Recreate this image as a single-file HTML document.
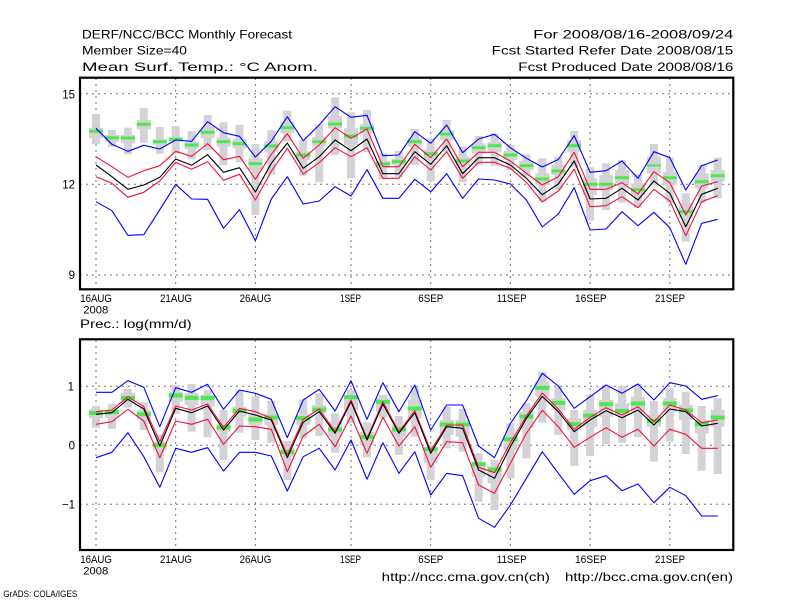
<!DOCTYPE html>
<html><head><meta charset="utf-8"><style>
html,body{margin:0;padding:0;background:#fff;}
svg{display:block;}
text{font-family:"Liberation Sans",sans-serif;fill:#000;}
</style></head><body>
<svg width="800" height="600" viewBox="0 0 800 600" xmlns="http://www.w3.org/2000/svg">
<rect width="800" height="600" fill="#fff"/>
<!-- header -->
<g font-size="12">
<text x="82" y="38.5" textLength="210" lengthAdjust="spacingAndGlyphs">DERF/NCC/BCC Monthly Forecast</text>
<text x="82" y="54.7" textLength="105" lengthAdjust="spacingAndGlyphs">Member Size=40</text>
<text x="82" y="71" textLength="236" lengthAdjust="spacingAndGlyphs">Mean Surf. Temp.: °C Anom.</text>
<text x="533.3" y="38.5" textLength="200" lengthAdjust="spacingAndGlyphs">For 2008/08/16-2008/09/24</text>
<text x="491.7" y="54.7" textLength="241.6" lengthAdjust="spacingAndGlyphs">Fcst Started Refer Date 2008/08/15</text>
<text x="518.3" y="71" textLength="215" lengthAdjust="spacingAndGlyphs">Fcst Produced Date 2008/08/16</text>
<text x="80" y="328" textLength="111.7" lengthAdjust="spacingAndGlyphs">Prec.: log(mm/d)</text>
<text x="381.7" y="581" textLength="168.3" lengthAdjust="spacingAndGlyphs">http://ncc.cma.gov.cn(ch)</text>
<text x="565" y="581" textLength="168" lengthAdjust="spacingAndGlyphs">http://bcc.cma.gov.cn(en)</text>
</g>
<text x="3.3" y="597" font-size="9.5" textLength="74" lengthAdjust="spacingAndGlyphs">GrADS: COLA/IGES</text>

<!-- gridlines -->
<g stroke="#777" stroke-width="1" stroke-dasharray="2,4" fill="none">
<line x1="80" y1="93.8" x2="733" y2="93.8"/>
<line x1="80" y1="184.3" x2="733" y2="184.3"/>
<line x1="80" y1="275" x2="733" y2="275"/>
<line x1="80" y1="386.3" x2="733" y2="386.3"/>
<line x1="80" y1="445.3" x2="733" y2="445.3"/>
<line x1="80" y1="504.3" x2="733" y2="504.3"/>
<line x1="96" y1="78" x2="96" y2="289"/><line x1="175.7" y1="78" x2="175.7" y2="289"/><line x1="255.4" y1="78" x2="255.4" y2="289"/><line x1="351" y1="78" x2="351" y2="289"/><line x1="430.7" y1="78" x2="430.7" y2="289"/><line x1="510.4" y1="78" x2="510.4" y2="289"/><line x1="590.1" y1="78" x2="590.1" y2="289"/><line x1="669.8" y1="78" x2="669.8" y2="289"/>
<line x1="96" y1="340" x2="96" y2="550"/><line x1="175.7" y1="340" x2="175.7" y2="550"/><line x1="255.4" y1="340" x2="255.4" y2="550"/><line x1="351" y1="340" x2="351" y2="550"/><line x1="430.7" y1="340" x2="430.7" y2="550"/><line x1="510.4" y1="340" x2="510.4" y2="550"/><line x1="590.1" y1="340" x2="590.1" y2="550"/><line x1="669.8" y1="340" x2="669.8" y2="550"/>
</g>

<!-- grey bars top -->
<g fill="#d3d3d7">
<rect x="92" y="114" width="8" height="30"/><rect x="107.9" y="130" width="8" height="16.7"/><rect x="123.9" y="127.7" width="8" height="26.6"/><rect x="139.8" y="108" width="8" height="34.7"/><rect x="155.8" y="127" width="8" height="26.7"/><rect x="171.7" y="126" width="8" height="27.3"/><rect x="187.6" y="131" width="8" height="28.3"/><rect x="203.6" y="115" width="8" height="35"/><rect x="219.5" y="122.3" width="8" height="42.7"/><rect x="235.5" y="125" width="8" height="37.3"/>
<rect x="251.4" y="144" width="8" height="71"/><rect x="267.3" y="130" width="8" height="44.3"/><rect x="283.3" y="110.7" width="8" height="31"/><rect x="299.2" y="140" width="8" height="35.7"/><rect x="315.2" y="124.3" width="8" height="58"/><rect x="331.1" y="97.3" width="8" height="57.7"/><rect x="347" y="112.3" width="8" height="66"/><rect x="363" y="110" width="8" height="42.3"/><rect x="378.9" y="153.3" width="8" height="26"/><rect x="394.9" y="151" width="8" height="26.3"/>
<rect x="410.8" y="129" width="8" height="36"/><rect x="426.7" y="138.3" width="8" height="42.7"/><rect x="442.7" y="120" width="8" height="31.7"/><rect x="458.6" y="146.7" width="8" height="35.6"/><rect x="474.6" y="136" width="8" height="29"/><rect x="490.5" y="133.3" width="8" height="32.4"/><rect x="506.4" y="145" width="8" height="25"/><rect x="522.4" y="154.3" width="8" height="22.4"/><rect x="538.3" y="158.3" width="8" height="42.7"/><rect x="554.3" y="156.7" width="8" height="33.3"/>
<rect x="570.2" y="131" width="8" height="35.7"/><rect x="586.1" y="167.3" width="8" height="53.4"/><rect x="602.1" y="163.3" width="8" height="46.7"/><rect x="618" y="160" width="8" height="42.7"/><rect x="634" y="174.3" width="8" height="33.4"/><rect x="649.9" y="144" width="8" height="41"/><rect x="665.8" y="157.7" width="8" height="45"/><rect x="681.8" y="193.3" width="8" height="48.4"/><rect x="697.7" y="165" width="8" height="38.3"/><rect x="713.7" y="157.7" width="8" height="40.6"/>

<rect x="89" y="127.7" width="14" height="10.6"/><rect x="104.9" y="135" width="14" height="6.7"/><rect x="120.9" y="135" width="14" height="8.3"/><rect x="136.8" y="120" width="14" height="9.3"/><rect x="152.8" y="139.3" width="14" height="5.7"/><rect x="168.7" y="137.3" width="14" height="4.4"/><rect x="184.6" y="141.7" width="14" height="7.3"/><rect x="200.6" y="126.7" width="14" height="11.6"/><rect x="216.5" y="137.7" width="14" height="9"/><rect x="232.5" y="139" width="14" height="9.3"/>
<rect x="248.4" y="158.3" width="14" height="11.7"/><rect x="264.3" y="140.7" width="14" height="11"/><rect x="280.3" y="121.7" width="14" height="11.6"/><rect x="296.2" y="151.7" width="14" height="8.3"/><rect x="312.2" y="136.7" width="14" height="10"/><rect x="328.1" y="116" width="14" height="12.3"/><rect x="344" y="128.3" width="14" height="16.7"/><rect x="360" y="124.3" width="14" height="9"/><rect x="375.9" y="161" width="14" height="6.7"/><rect x="391.9" y="159" width="14" height="6"/>
<rect x="407.8" y="138.3" width="14" height="8.4"/><rect x="423.7" y="150" width="14" height="10"/><rect x="439.7" y="130" width="14" height="10"/><rect x="455.6" y="156.7" width="14" height="9"/><rect x="471.6" y="143.3" width="14" height="10"/><rect x="487.5" y="141.7" width="14" height="10"/><rect x="503.4" y="151" width="14" height="9"/><rect x="519.4" y="161" width="14" height="9"/><rect x="535.3" y="173.3" width="14" height="11.7"/><rect x="551.3" y="165" width="14" height="10"/>
<rect x="567.2" y="140" width="14" height="11.7"/><rect x="583.1" y="178.3" width="14" height="16.7"/><rect x="599.1" y="175" width="14" height="15"/><rect x="615" y="170" width="14" height="13.3"/><rect x="631" y="183.3" width="14" height="11.7"/><rect x="646.9" y="156.7" width="14" height="16.6"/><rect x="662.8" y="171.7" width="14" height="13.3"/><rect x="678.8" y="203.3" width="14" height="15"/><rect x="694.7" y="173.3" width="14" height="15"/><rect x="710.7" y="170" width="14" height="11.7"/>

<!-- grey bars bottom -->
<rect x="92" y="406" width="8" height="21.7"/><rect x="107.9" y="404" width="8" height="25"/><rect x="123.9" y="389" width="8" height="18.7"/><rect x="139.8" y="402.3" width="8" height="27.7"/><rect x="155.8" y="434.3" width="8" height="38"/><rect x="171.7" y="385" width="8" height="29"/><rect x="187.6" y="384" width="8" height="47.7"/><rect x="203.6" y="390" width="8" height="47.3"/><rect x="219.5" y="410" width="8" height="50"/><rect x="235.5" y="390.7" width="8" height="42"/>
<rect x="251.4" y="396" width="8" height="44"/><rect x="267.3" y="401" width="8" height="41.7"/><rect x="283.3" y="441" width="8" height="39"/><rect x="299.2" y="399.3" width="8" height="39"/><rect x="315.2" y="393.3" width="8" height="42.7"/><rect x="331.1" y="413.3" width="8" height="39.4"/><rect x="347" y="390" width="8" height="33.3"/><rect x="363" y="422.3" width="8" height="35"/><rect x="378.9" y="395" width="8" height="23.3"/><rect x="394.9" y="416" width="8" height="39"/>
<rect x="410.8" y="386.7" width="8" height="50"/><rect x="426.7" y="445" width="8" height="35"/><rect x="442.7" y="406.7" width="8" height="41.6"/><rect x="458.6" y="409" width="8" height="42.7"/><rect x="474.6" y="453.3" width="8" height="48.4"/><rect x="490.5" y="460" width="8" height="50"/><rect x="506.4" y="423.3" width="8" height="55"/><rect x="522.4" y="403.3" width="8" height="55"/><rect x="538.3" y="371.7" width="8" height="51"/><rect x="554.3" y="386.7" width="8" height="48.3"/>
<rect x="570.2" y="410" width="8" height="56"/><rect x="586.1" y="395" width="8" height="61"/><rect x="602.1" y="386.7" width="8" height="57.3"/><rect x="618" y="386" width="8" height="56.7"/><rect x="634" y="384" width="8" height="53.3"/><rect x="649.9" y="401" width="8" height="60.7"/><rect x="665.8" y="388.3" width="8" height="53.4"/><rect x="681.8" y="391.7" width="8" height="62.3"/><rect x="697.7" y="406" width="8" height="64.7"/><rect x="713.7" y="398.3" width="8" height="75.7"/>

<rect x="89" y="409.3" width="14" height="9"/><rect x="104.9" y="410" width="14" height="7.7"/><rect x="120.9" y="392.7" width="14" height="10"/><rect x="136.8" y="410" width="14" height="9.3"/><rect x="152.8" y="441.7" width="14" height="8.3"/><rect x="168.7" y="391.7" width="14" height="10"/><rect x="184.6" y="393.3" width="14" height="11.7"/><rect x="200.6" y="395" width="14" height="11.7"/><rect x="216.5" y="424.3" width="14" height="7.4"/><rect x="232.5" y="406.7" width="14" height="10"/>
<rect x="248.4" y="415" width="14" height="10"/><rect x="264.3" y="413.3" width="14" height="11.7"/><rect x="280.3" y="448.3" width="14" height="8.4"/><rect x="296.2" y="415" width="14" height="10"/><rect x="312.2" y="405" width="14" height="8.3"/><rect x="328.1" y="421.7" width="14" height="15"/><rect x="344" y="395" width="14" height="15"/><rect x="360" y="431.7" width="14" height="13.3"/><rect x="375.9" y="398.3" width="14" height="13.4"/><rect x="391.9" y="425" width="14" height="11.7"/>
<rect x="407.8" y="400" width="14" height="18.3"/><rect x="423.7" y="448.3" width="14" height="14.4"/><rect x="439.7" y="420" width="14" height="15"/><rect x="455.6" y="420" width="14" height="16.7"/><rect x="471.6" y="461.7" width="14" height="15"/><rect x="487.5" y="466.7" width="14" height="16.6"/><rect x="503.4" y="435" width="14" height="15"/><rect x="519.4" y="411.7" width="14" height="16.6"/><rect x="535.3" y="381.7" width="14" height="15"/><rect x="551.3" y="398.3" width="14" height="11.7"/>
<rect x="567.2" y="418.3" width="14" height="11.7"/><rect x="583.1" y="410" width="14" height="16.7"/><rect x="599.1" y="400" width="14" height="16.7"/><rect x="615" y="403.3" width="14" height="11.7"/><rect x="631" y="396.7" width="14" height="15"/><rect x="646.9" y="415" width="14" height="11.7"/><rect x="662.8" y="398.3" width="14" height="13.4"/><rect x="678.8" y="405" width="14" height="15"/><rect x="694.7" y="420" width="14" height="13.3"/><rect x="710.7" y="410" width="14" height="16.7"/>
</g>

<!-- green bars -->
<g fill="#4ee84e">
<rect x="89" y="129.8" width="14" height="3"/><rect x="104.9" y="136.2" width="14" height="3"/><rect x="120.9" y="136.5" width="14" height="3"/><rect x="136.8" y="122.8" width="14" height="3"/><rect x="152.8" y="140.2" width="14" height="3"/><rect x="168.7" y="137.8" width="14" height="3"/><rect x="184.6" y="143.5" width="14" height="3"/><rect x="200.6" y="130.8" width="14" height="3"/><rect x="216.5" y="140.2" width="14" height="3"/><rect x="232.5" y="142.2" width="14" height="3"/>
<rect x="248.4" y="162.2" width="14" height="3"/><rect x="264.3" y="144.5" width="14" height="3"/><rect x="280.3" y="126.2" width="14" height="3"/><rect x="296.2" y="153.5" width="14" height="3"/><rect x="312.2" y="140.2" width="14" height="3"/><rect x="328.1" y="122.5" width="14" height="3"/><rect x="344" y="134.5" width="14" height="3"/><rect x="360" y="126.8" width="14" height="3"/><rect x="375.9" y="162.5" width="14" height="3"/><rect x="391.9" y="160.2" width="14" height="3"/>
<rect x="407.8" y="140.2" width="14" height="3"/><rect x="423.7" y="152.2" width="14" height="3"/><rect x="439.7" y="132.5" width="14" height="3"/><rect x="455.6" y="159.5" width="14" height="3"/><rect x="471.6" y="146.2" width="14" height="3"/><rect x="487.5" y="144.2" width="14" height="3"/><rect x="503.4" y="153.5" width="14" height="3"/><rect x="519.4" y="164.2" width="14" height="3"/><rect x="535.3" y="177.5" width="14" height="3"/><rect x="551.3" y="169.5" width="14" height="3"/>
<rect x="567.2" y="144.2" width="14" height="3"/><rect x="583.1" y="182.8" width="14" height="3"/><rect x="599.1" y="182.8" width="14" height="3"/><rect x="615" y="176.2" width="14" height="3"/><rect x="631" y="188.2" width="14" height="3"/><rect x="646.9" y="164.5" width="14" height="2"/><rect x="662.8" y="176.2" width="14" height="3"/><rect x="678.8" y="210.2" width="14" height="3"/><rect x="694.7" y="180.2" width="14" height="3"/><rect x="710.7" y="174.2" width="14" height="3"/>

<rect x="89" y="411" width="14" height="4"/><rect x="104.9" y="410.2" width="14" height="4"/><rect x="120.9" y="395.9" width="14" height="4"/><rect x="136.8" y="412.2" width="14" height="4"/><rect x="152.8" y="443.2" width="14" height="4"/><rect x="168.7" y="393.5" width="14" height="4"/><rect x="184.6" y="395.9" width="14" height="4"/><rect x="200.6" y="395.9" width="14" height="4"/><rect x="216.5" y="425.5" width="14" height="4"/><rect x="232.5" y="408.9" width="14" height="4"/>
<rect x="248.4" y="417.5" width="14" height="4"/><rect x="264.3" y="415.5" width="14" height="4"/><rect x="280.3" y="449.9" width="14" height="4"/><rect x="296.2" y="416.2" width="14" height="4"/><rect x="312.2" y="407.5" width="14" height="4"/><rect x="328.1" y="427.5" width="14" height="4"/><rect x="344" y="395.2" width="14" height="4"/><rect x="360" y="434.9" width="14" height="4"/><rect x="375.9" y="399.9" width="14" height="4"/><rect x="391.9" y="427.5" width="14" height="4"/>
<rect x="407.8" y="406.5" width="14" height="4"/><rect x="423.7" y="447.2" width="14" height="4"/><rect x="439.7" y="422.5" width="14" height="4"/><rect x="455.6" y="422.5" width="14" height="4"/><rect x="471.6" y="462.2" width="14" height="4"/><rect x="487.5" y="467.5" width="14" height="4"/><rect x="503.4" y="437.2" width="14" height="4"/><rect x="519.4" y="414.5" width="14" height="4"/><rect x="535.3" y="385.9" width="14" height="4"/><rect x="551.3" y="400.9" width="14" height="4"/>
<rect x="567.2" y="422.2" width="14" height="4"/><rect x="583.1" y="413.5" width="14" height="4"/><rect x="599.1" y="402.2" width="14" height="4"/><rect x="615" y="408.9" width="14" height="4"/><rect x="631" y="401.5" width="14" height="4"/><rect x="646.9" y="418.9" width="14" height="4"/><rect x="662.8" y="401.5" width="14" height="4"/><rect x="678.8" y="408.2" width="14" height="4"/><rect x="694.7" y="422.2" width="14" height="4"/><rect x="710.7" y="415.5" width="14" height="4"/>
</g>

<!-- lines top -->
<g fill="none" stroke-width="1.1" stroke-linejoin="round">
<polyline stroke="#0000ff" points="96,128.3 111.9,144.3 127.9,151.3 143.8,145.3 159.8,149 175.7,140 191.6,141.3 207.6,121.7 223.5,132.7 239.5,136.3 255.4,157 271.3,141.3 287.3,116.7 303.2,140.7 319.2,125 335.1,106.7 351,117.3 367,115.3 382.9,155.7 398.9,155 414.8,131.7 430.7,143.3 446.7,125 462.6,152.7 478.6,139 494.5,134.3 510.4,147.7 526.4,158.3 542.3,167 558.3,159.5 574.2,135.7 590.1,172.3 606.1,170.7 622,161 638,178.3 653.9,151.7 669.8,157.7 685.8,190 701.7,165.7 717.7,160"/>
<polyline stroke="#0000ff" points="96,201.7 111.9,210.7 127.9,235.3 143.8,234.7 159.8,209.7 175.7,184.3 191.6,199 207.6,199.3 223.5,228.3 239.5,209.7 255.4,240.7 271.3,199 287.3,176.7 303.2,204 319.2,201 335.1,186.7 351,196 367,169.7 382.9,198.3 398.9,198.3 414.8,179.3 430.7,191.7 446.7,173.7 462.6,198.3 478.6,179 494.5,180 510.4,184 526.4,200 542.3,227 558.3,214 574.2,187.7 590.1,230 606.1,229 622,211.7 638,225.7 653.9,212.3 669.8,227.7 685.8,264.3 701.7,223.3 717.7,219.3"/>
<polyline stroke="#f0143c" points="96,156.7 111.9,166.7 127.9,177.3 143.8,170.7 159.8,165.7 175.7,151.3 191.6,156.3 207.6,143.7 223.5,159.7 239.5,156.3 255.4,179.3 271.3,154.3 287.3,133.7 303.2,158.3 319.2,145 335.1,127.7 351,138.3 367,129 382.9,166.7 398.9,166.7 414.8,144.3 430.7,157.7 446.7,139 462.6,166.7 478.6,152.3 494.5,152.3 510.4,161 526.4,173.3 542.3,185 558.3,176.7 574.2,152.3 590.1,189.3 606.1,189.3 622,182.7 638,194 653.9,171.7 669.8,182.7 685.8,215 701.7,186 717.7,181.7"/>
<polyline stroke="#f0143c" points="96,176.7 111.9,183.3 127.9,197.3 143.8,192.3 159.8,181 175.7,162.3 191.6,169.3 207.6,161.7 223.5,180.3 239.5,174.3 255.4,200 271.3,171.3 287.3,148.3 303.2,174 319.2,162.7 335.1,147.7 351,156.7 367,147.7 382.9,178.3 398.9,178.3 414.8,156.7 430.7,170 446.7,151.7 462.6,178.3 478.6,162.3 494.5,162.3 510.4,168.3 526.4,182.3 542.3,202 558.3,191 574.2,169.3 590.1,206.7 606.1,205.7 622,196.7 638,207.7 653.9,189.3 669.8,201 685.8,235.7 701.7,201.7 717.7,195.7"/>
<polyline stroke="#000" points="96,165 111.9,176.7 127.9,189.3 143.8,185 159.8,177.3 175.7,159 191.6,165.3 207.6,154.7 223.5,172.3 239.5,167.7 255.4,192 271.3,163.3 287.3,143 303.2,168.3 319.2,156.7 335.1,140 351,150.7 367,139 382.9,173.7 398.9,173.7 414.8,151.7 430.7,164.3 446.7,145.7 462.6,173.7 478.6,157.7 494.5,157.7 510.4,165 526.4,178.3 542.3,194.7 558.3,184 574.2,161 590.1,199 606.1,198.3 622,188.3 638,200 653.9,181 669.8,193.3 685.8,226.7 701.7,194.3 717.7,188.3"/>

<!-- lines bottom -->
<polyline stroke="#0000ff" points="96,392.3 111.9,392.3 127.9,380.7 143.8,387.3 159.8,426.7 175.7,387.7 191.6,392.3 207.6,384.3 223.5,409.3 239.5,390 255.4,393.3 271.3,399.3 287.3,437.7 303.2,400 319.2,389.3 335.1,411 351,380.7 367,419.3 382.9,382.7 398.9,411.7 414.8,385 430.7,430 446.7,405 462.6,405 478.6,446 494.5,457.7 510.4,423.3 526.4,400.7 542.3,373.3 558.3,386 574.2,408.3 590.1,396.7 606.1,385 622,393.3 638,384 653.9,400 669.8,382.7 685.8,386 701.7,399.3 717.7,395.7"/>
<polyline stroke="#0000ff" points="96,457.7 111.9,452.3 127.9,432.7 143.8,456.7 159.8,487.3 175.7,448.3 191.6,452.3 207.6,447.7 223.5,471 239.5,452.3 255.4,452.3 271.3,456 287.3,491 303.2,456.7 319.2,448.3 335.1,470 351,440 367,479.3 382.9,442.7 398.9,473.3 414.8,451.7 430.7,495 446.7,473.3 462.6,475.7 478.6,518.3 494.5,527.3 510.4,505 526.4,478.3 542.3,451.7 558.3,473.3 574.2,494.3 590.1,480.7 606.1,475.7 622,490.7 638,484 653.9,502.7 669.8,487.3 685.8,495.7 701.7,516 717.7,516"/>
<polyline stroke="#f0143c" points="96,411.7 111.9,410 127.9,396.7 143.8,406.7 159.8,441.7 175.7,406 191.6,410 207.6,404 223.5,427.3 239.5,408.3 255.4,411.7 271.3,418.3 287.3,455 303.2,419.3 319.2,409 335.1,431.7 351,400 367,438.3 382.9,401.7 398.9,431.7 414.8,410.7 430.7,450.7 446.7,425 462.6,425 478.6,467.3 494.5,472.7 510.4,442.7 526.4,416 542.3,393 558.3,409 574.2,429.3 590.1,417.3 606.1,407.7 622,415 638,406.7 653.9,421.7 669.8,405 685.8,410 701.7,422.7 717.7,420"/>
<polyline stroke="#f0143c" points="96,424.3 111.9,421.7 127.9,409.3 143.8,421 159.8,457.7 175.7,421 191.6,424.3 207.6,419.3 223.5,444.3 239.5,426 255.4,426.7 271.3,429.3 287.3,471.7 303.2,436 319.2,424.3 335.1,446.7 351,416 367,453.3 382.9,417.3 398.9,446 414.8,426.7 430.7,467.3 446.7,441.7 462.6,442.7 478.6,485 494.5,493.3 510.4,463.3 526.4,433.3 542.3,410.3 558.3,426.7 574.2,447.3 590.1,437.3 606.1,427.7 622,437.3 638,429.3 653.9,446 669.8,429.3 685.8,434.3 701.7,448.3 717.7,448.3"/>
<polyline stroke="#000" points="96,414.3 111.9,412.7 127.9,399.3 143.8,409 159.8,446 175.7,408.3 191.6,412.7 207.6,406 223.5,430 239.5,411 255.4,415 271.3,420 287.3,457.7 303.2,422.3 319.2,411.7 335.1,433.3 351,401.7 367,440 382.9,404 398.9,433.3 414.8,412.7 430.7,453.3 446.7,426.7 462.6,428.3 478.6,470 494.5,478.3 510.4,446.7 526.4,418.3 542.3,396.3 558.3,411.7 574.2,431.7 590.1,420 606.1,410.7 622,417.7 638,410 653.9,425 669.8,409 685.8,411.7 701.7,426 717.7,423.3"/>
</g>

<!-- frames -->
<rect x="80" y="77.7" width="653.3" height="211.6" fill="none" stroke="#000" stroke-width="2.2"/>
<rect x="80" y="339.3" width="653.3" height="210.7" fill="none" stroke="#000" stroke-width="2.2"/>

<!-- y labels -->
<g font-size="11.5" text-anchor="end">
<text x="75" y="98.3">15</text>
<text x="75" y="188.5">12</text>
<text x="75" y="279.2">9</text>
<text x="74" y="390.5">1</text>
<text x="75" y="449.5">0</text>
<text x="75" y="508.5">−1</text>
</g>

<!-- x labels top -->
<g font-size="11">
<text x="80.2" y="302" textLength="31.7" lengthAdjust="spacingAndGlyphs">16AUG</text>
<text x="83.3" y="313.5" textLength="25" lengthAdjust="spacingAndGlyphs">2008</text>
<text x="160" y="302" textLength="32" lengthAdjust="spacingAndGlyphs">21AUG</text>
<text x="239.6" y="302" textLength="31.7" lengthAdjust="spacingAndGlyphs">26AUG</text>
<text x="340" y="302" textLength="21" lengthAdjust="spacingAndGlyphs">1SEP</text>
<text x="418.3" y="302" textLength="25" lengthAdjust="spacingAndGlyphs">6SEP</text>
<text x="496.7" y="302" textLength="30" lengthAdjust="spacingAndGlyphs">11SEP</text>
<text x="575" y="302" textLength="31.7" lengthAdjust="spacingAndGlyphs">16SEP</text>
<text x="655" y="302" textLength="30" lengthAdjust="spacingAndGlyphs">21SEP</text>
</g>
<!-- x labels bottom -->
<g font-size="11">
<text x="80.2" y="563" textLength="31.7" lengthAdjust="spacingAndGlyphs">16AUG</text>
<text x="83.3" y="574.5" textLength="25" lengthAdjust="spacingAndGlyphs">2008</text>
<text x="160" y="563" textLength="32" lengthAdjust="spacingAndGlyphs">21AUG</text>
<text x="239.6" y="563" textLength="31.7" lengthAdjust="spacingAndGlyphs">26AUG</text>
<text x="340" y="563" textLength="21" lengthAdjust="spacingAndGlyphs">1SEP</text>
<text x="418.3" y="563" textLength="25" lengthAdjust="spacingAndGlyphs">6SEP</text>
<text x="496.7" y="563" textLength="30" lengthAdjust="spacingAndGlyphs">11SEP</text>
<text x="575" y="563" textLength="31.7" lengthAdjust="spacingAndGlyphs">16SEP</text>
<text x="655" y="563" textLength="30" lengthAdjust="spacingAndGlyphs">21SEP</text>
</g>
</svg>
</body></html>
